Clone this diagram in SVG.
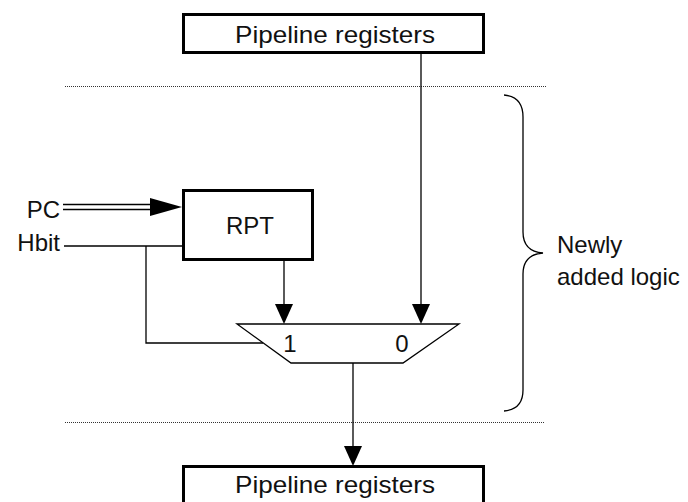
<svg xmlns="http://www.w3.org/2000/svg" width="688" height="502" viewBox="0 0 688 502">
  <style>
    text { font-family: "Liberation Sans", Arial, sans-serif; font-size: 24px; fill: #111; }
    .box { fill: #fff; stroke: #000; stroke-width: 3; }
    .wire { fill: none; stroke: #000; stroke-width: 1.3; }
    .dot { fill: none; stroke: #333; stroke-width: 1; stroke-dasharray: 1 1; }
    .head { fill: #000; stroke: none; }
  </style>
  <rect width="688" height="502" fill="#fff"/>

  <g id="separators">
    <line class="dot" x1="65" y1="86.5" x2="547" y2="86.5"/>
    <line class="dot" x1="65" y1="422.5" x2="544" y2="422.5"/>
  </g>

  <g id="connectors">
    <line class="wire" x1="421" y1="53" x2="421" y2="306"/>
    <polygon class="head" points="412,304 430,304 421,324"/>
    <line class="wire" x1="284" y1="260" x2="284" y2="306"/>
    <polygon class="head" points="275,304 293,304 284,324"/>
    <line class="wire" x1="63" y1="204.5" x2="152" y2="204.5"/>
    <line class="wire" x1="63" y1="209.5" x2="152" y2="209.5"/>
    <polygon class="head" points="150,198 182,207 150,216"/>
    <line class="wire" x1="64" y1="246" x2="183" y2="246"/>
    <polyline class="wire" points="146,246 146,343 263,343"/>
    <line class="wire" x1="353" y1="363" x2="353" y2="448"/>
    <polygon class="head" points="344,446 362,446 353,466"/>
  </g>

  <g id="pipeline-top">
    <rect class="box" x="183.5" y="14.5" width="300" height="38"/>
    <text x="335" y="43" text-anchor="middle" textLength="200" lengthAdjust="spacingAndGlyphs">Pipeline registers</text>
  </g>

  <g id="pipeline-bottom">
    <rect class="box" x="183.5" y="466.5" width="300" height="45"/>
    <text x="335" y="493" text-anchor="middle" textLength="200" lengthAdjust="spacingAndGlyphs">Pipeline registers</text>
  </g>

  <g id="rpt">
    <rect class="box" x="183.5" y="190.5" width="129" height="69"/>
    <text x="250" y="234" text-anchor="middle">RPT</text>
  </g>

  <g id="mux">
    <polygon class="wire" points="237,324 459,324 403,363 291,363"/>
    <text x="290" y="352" text-anchor="middle">1</text>
    <text x="402" y="352" text-anchor="middle">0</text>
  </g>

  <g id="inputs">
    <text x="60" y="218" text-anchor="end">PC</text>
    <text x="60" y="251" text-anchor="end">Hbit</text>
  </g>

  <g id="brace">
    <path class="wire" d="M504,95 C516,96 523,103 523,117 L523,232 C523,245 530,252 543,253 C530,254 523,261 523,274 L523,390 C523,403 516,410 504,411"/>
    <text x="557" y="253">Newly</text>
    <text x="557" y="285">added logic</text>
  </g>
</svg>
